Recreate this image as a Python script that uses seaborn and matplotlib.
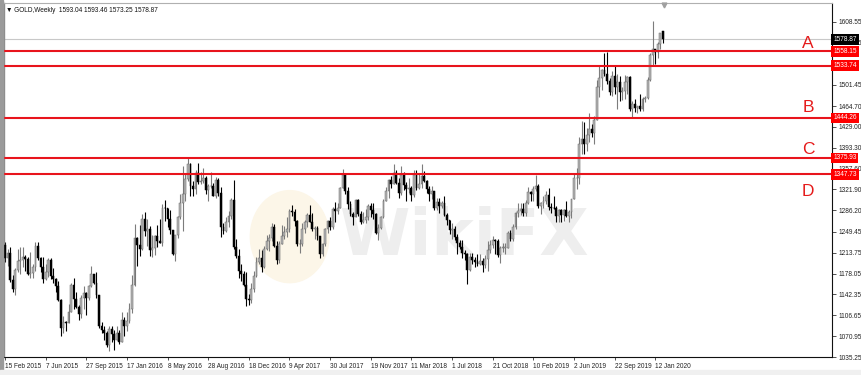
import numpy as np
import pandas as pd
import matplotlib
matplotlib.use("Agg")
import matplotlib.pyplot as plt
import matplotlib.transforms as mtransforms
from matplotlib.patches import Rectangle, Ellipse
import seaborn as sns

# ---------------- data (weekly GOLD candles) ----------------
start_date = "2015-02-15"

opens = [
    1227, 1204, 1213, 1167, 1152, 1184, 1199, 1201, 1207, 1203, 1178, 1179, 1189, 1225, 1205, 1190,
    1168, 1180, 1201, 1173, 1168, 1157, 1132, 1085, 1095, 1094, 1113, 1159, 1134, 1121, 1108, 1137,
    1145, 1137, 1156, 1177, 1162, 1142, 1088, 1081, 1076, 1056, 1084, 1075, 1065, 1076,
    1061, 1098, 1089, 1097, 1117, 1158, 1239, 1227, 1220, 1271, 1250, 1255, 1218, 1221, 1243, 1234,
    1231, 1291, 1290, 1272, 1252, 1212, 1244, 1275, 1298, 1315, 1340, 1366, 1327, 1322, 1350, 1335,
    1337, 1341, 1321, 1327, 1328, 1310, 1338, 1316, 1257, 1251, 1267, 1276, 1304, 1224, 1208, 1183,
    1177, 1159, 1134, 1133,
    1152, 1173, 1197, 1205, 1190, 1220, 1234, 1239, 1257, 1226, 1201, 1229, 1243, 1249, 1254, 1285,
    1284, 1268, 1228, 1228, 1254, 1267, 1279, 1266, 1254, 1256, 1242, 1212, 1228, 1254, 1268, 1258,
    1289, 1285, 1291, 1325, 1346, 1320, 1297, 1280, 1275, 1304, 1280, 1266, 1269, 1275, 1293, 1287,
    1280, 1248, 1256, 1275,
    1303, 1320, 1338, 1332, 1350, 1333, 1316, 1347, 1330, 1322, 1324, 1313, 1347, 1325, 1332, 1345,
    1336, 1323, 1314, 1320, 1291, 1301, 1294, 1298, 1279, 1269, 1252, 1255, 1241, 1231, 1223, 1214,
    1212, 1184, 1206, 1201, 1197, 1194, 1199, 1192, 1203, 1219, 1227, 1235, 1233, 1209, 1222, 1222,
    1222, 1248, 1238, 1257,
    1281, 1285, 1289, 1282, 1298, 1318, 1314, 1322, 1328, 1294, 1298, 1302, 1313, 1292, 1291, 1290,
    1276, 1286, 1279, 1286, 1277, 1284, 1305, 1341, 1341, 1400, 1409, 1400, 1415, 1426, 1419, 1440,
    1497, 1513, 1526, 1520, 1507, 1488, 1516, 1497, 1505, 1489, 1490, 1505, 1514, 1459, 1468, 1462,
    1464, 1460, 1476, 1478,
    1510, 1552, 1562, 1557, 1571, 1593.04,
]

highs = [
    1232, 1220, 1223, 1175, 1188, 1220, 1224, 1223, 1209, 1207, 1215, 1194, 1232, 1232, 1206, 1206,
    1194, 1205, 1205, 1188, 1170, 1166, 1134, 1105, 1097, 1126, 1162, 1170, 1146, 1125, 1141, 1157,
    1147, 1159, 1191, 1178, 1180, 1142, 1095, 1088, 1080, 1088, 1089, 1081, 1088, 1081,
    1112, 1103, 1112, 1127, 1175, 1263, 1240, 1261, 1280, 1283, 1272, 1260, 1244, 1244, 1261, 1271,
    1297, 1304, 1290, 1287, 1253, 1244, 1277, 1315, 1362, 1350, 1375, 1367, 1337, 1356, 1367, 1352,
    1359, 1345, 1331, 1352, 1333, 1344, 1342, 1326, 1265, 1274, 1285, 1308, 1338, 1237, 1220, 1194,
    1182, 1181, 1143, 1162,
    1183, 1207, 1220, 1219, 1226, 1244, 1245, 1264, 1263, 1233, 1233, 1261, 1259, 1274, 1289, 1296,
    1289, 1270, 1237, 1264, 1270, 1281, 1296, 1282, 1260, 1260, 1243, 1230, 1256, 1270, 1275, 1292,
    1301, 1299, 1326, 1357, 1348, 1326, 1302, 1283, 1306, 1306, 1285, 1284, 1288, 1297, 1298, 1299,
    1281, 1262, 1277, 1306,
    1326, 1340, 1345, 1366, 1355, 1341, 1362, 1352, 1334, 1341, 1328, 1355, 1356, 1348, 1365, 1354,
    1338, 1327, 1327, 1320, 1308, 1307, 1303, 1310, 1282, 1270, 1265, 1260, 1245, 1235, 1236, 1219,
    1214, 1214, 1214, 1207, 1212, 1211, 1205, 1210, 1233, 1236, 1243, 1238, 1237, 1225, 1230, 1230,
    1250, 1252, 1262, 1284,
    1298, 1298, 1298, 1304, 1326, 1319, 1327, 1346, 1331, 1300, 1311, 1320, 1324, 1298, 1311, 1294,
    1289, 1289, 1288, 1303, 1287, 1306, 1348, 1358, 1411, 1439, 1437, 1427, 1453, 1434, 1448, 1510,
    1535, 1528, 1555, 1557, 1512, 1524, 1535, 1519, 1516, 1498, 1518, 1516, 1516, 1474, 1476, 1465,
    1485, 1480, 1481, 1514,
    1555, 1611, 1563, 1575, 1589, 1593.46,
]

lows = [
    1197, 1191, 1163, 1147, 1142, 1180, 1178, 1190, 1183, 1175, 1170, 1170, 1182, 1201, 1180, 1162,
    1167, 1172, 1168, 1162, 1147, 1131, 1072, 1077, 1080, 1093, 1112, 1118, 1119, 1098, 1102, 1118,
    1107, 1132, 1155, 1161, 1136, 1085, 1077, 1065, 1052, 1046, 1061, 1047, 1065, 1057,
    1061, 1071, 1080, 1094, 1110, 1156, 1191, 1208, 1219, 1242, 1226, 1208, 1207, 1209, 1224, 1230,
    1226, 1268, 1258, 1245, 1209, 1200, 1239, 1272, 1250, 1303, 1336, 1310, 1310, 1314, 1332, 1332,
    1333, 1315, 1302, 1324, 1310, 1308, 1310, 1241, 1245, 1249, 1258, 1272, 1220, 1204, 1171, 1165,
    1156, 1123, 1124, 1127,
    1146, 1172, 1195, 1180, 1188, 1218, 1216, 1233, 1223, 1195, 1196, 1228, 1238, 1241, 1249, 1277,
    1260, 1226, 1214, 1226, 1247, 1258, 1266, 1251, 1237, 1236, 1205, 1208, 1226, 1248, 1253, 1254,
    1266, 1280, 1291, 1325, 1315, 1288, 1276, 1261, 1274, 1277, 1262, 1264, 1265, 1270, 1275, 1271,
    1245, 1236, 1254, 1273,
    1302, 1307, 1324, 1331, 1331, 1307, 1312, 1321, 1303, 1316, 1303, 1309, 1321, 1322, 1325, 1334,
    1316, 1302, 1305, 1286, 1286, 1281, 1290, 1277, 1261, 1245, 1237, 1235, 1211, 1220, 1204, 1202,
    1160, 1183, 1195, 1189, 1191, 1192, 1181, 1187, 1183, 1214, 1221, 1212, 1207, 1196, 1215, 1212,
    1221, 1233, 1234, 1254,
    1275, 1279, 1276, 1276, 1297, 1302, 1302, 1320, 1290, 1280, 1290, 1297, 1286, 1281, 1289, 1266,
    1266, 1266, 1268, 1274, 1266, 1273, 1305, 1323, 1331, 1383, 1382, 1387, 1403, 1412, 1400, 1440,
    1480, 1492, 1516, 1503, 1484, 1481, 1485, 1459, 1474, 1475, 1476, 1485, 1456, 1446, 1455, 1452,
    1457, 1456, 1471, 1477,
    1508, 1535, 1537, 1547, 1563, 1573.25,
]

closes = [
    1204, 1213, 1167, 1152, 1184, 1199, 1201, 1207, 1203, 1178, 1179, 1189, 1225, 1205, 1190, 1168,
    1180, 1201, 1173, 1168, 1157, 1132, 1085, 1095, 1094, 1113, 1159, 1134, 1121, 1108, 1137, 1145,
    1137, 1156, 1177, 1162, 1142, 1088, 1081, 1076, 1056, 1084, 1075, 1065, 1076, 1061,
    1098, 1089, 1097, 1117, 1158, 1239, 1227, 1220, 1271, 1250, 1255, 1218, 1221, 1243, 1234, 1231,
    1291, 1290, 1272, 1252, 1212, 1244, 1275, 1298, 1315, 1340, 1366, 1327, 1322, 1350, 1335, 1337,
    1341, 1321, 1327, 1328, 1310, 1338, 1316, 1257, 1251, 1267, 1276, 1304, 1224, 1208, 1183, 1177,
    1159, 1134, 1133, 1152,
    1173, 1197, 1205, 1190, 1220, 1234, 1239, 1257, 1226, 1201, 1229, 1243, 1249, 1254, 1285, 1284,
    1268, 1228, 1228, 1254, 1267, 1279, 1266, 1254, 1256, 1242, 1212, 1228, 1254, 1268, 1258, 1289,
    1285, 1291, 1325, 1346, 1320, 1297, 1280, 1275, 1304, 1280, 1266, 1269, 1275, 1293, 1287, 1280,
    1248, 1256, 1275, 1303,
    1320, 1338, 1332, 1350, 1333, 1316, 1347, 1330, 1322, 1324, 1313, 1347, 1325, 1332, 1345, 1336,
    1323, 1314, 1320, 1291, 1301, 1294, 1298, 1279, 1269, 1252, 1255, 1241, 1231, 1223, 1214, 1212,
    1184, 1206, 1201, 1197, 1194, 1199, 1192, 1203, 1219, 1227, 1235, 1233, 1209, 1222, 1222, 1222,
    1248, 1238, 1257, 1281,
    1285, 1289, 1282, 1298, 1318, 1314, 1322, 1328, 1294, 1298, 1302, 1313, 1292, 1291, 1290, 1276,
    1286, 1279, 1286, 1277, 1284, 1305, 1341, 1341, 1400, 1409, 1400, 1415, 1426, 1419, 1440, 1497,
    1513, 1526, 1520, 1507, 1488, 1516, 1497, 1505, 1489, 1490, 1505, 1514, 1459, 1468, 1462, 1464,
    1460, 1476, 1478, 1510,
    1552, 1562, 1557, 1571, 1589, 1578.87,
]

levels = [1558.15, 1533.74, 1444.26, 1375.93, 1347.73]
zone_letters = ["A", "B", "C", "D"]
zone_letter_prices = [1572, 1463, 1390, 1318]
current_price = 1578.87
ytick_values = [1608.55, 1572.85, 1501.45, 1464.70, 1429.00, 1393.30, 1357.60,
                1321.90, 1286.20, 1249.45, 1213.75, 1178.05, 1142.35, 1106.65, 1070.95, 1035.25]
xtick_labels = ["15 Feb 2015", "7 Jun 2015", "27 Sep 2015", "17 Jan 2016", "8 May 2016",
                "28 Aug 2016", "18 Dec 2016", "9 Apr 2017", "30 Jul 2017", "19 Nov 2017",
                "11 Mar 2018", "1 Jul 2018", "21 Oct 2018", "10 Feb 2019", "2 Jun 2019",
                "22 Sep 2019", "12 Jan 2020"]
header_text = "GOLD,Weekly  1593.04 1593.46 1573.25 1578.87"
watermark = "WikiFX"

# ---------------- build table ----------------
assert len(opens) == len(highs) == len(lows) == len(closes)
df = pd.DataFrame({"open": opens, "high": highs, "low": lows, "close": closes})
df["date"] = pd.date_range(start_date, periods=len(df), freq="7D")
df["idx"] = np.arange(len(df))
df["up"] = df["close"] >= df["open"]
tick_idx = [df.index[df["date"] == pd.Timestamp(lbl)][0] for lbl in xtick_labels]

# ---------------- style ----------------
sns.set_theme(style="white")
plt.rcParams["font.family"] = ["Liberation Sans", "DejaVu Sans"]

W, H = 862, 375
fig = plt.figure(figsize=(W / 100, H / 100), dpi=100)
fig.patch.set_facecolor("white")
ax_left, ax_right, ax_top, ax_bottom = 4, 832, 3, 357
ax = fig.add_axes([ax_left / W, (H - ax_bottom) / H, (ax_right - ax_left) / W, (ax_bottom - ax_top) / H])
ax.set_facecolor("white")

px_per_bar = 2.54
x0 = -1 / px_per_bar
ax.set_xlim(x0, x0 + (ax_right - ax_left) / px_per_bar)
ax.set_ylim(1036.95, 1640.97)

# window decoration
fig.patches.append(Rectangle((0, 0), 3 / W, 1, transform=fig.transFigure, color="#9a9a9a", zorder=0))
fig.patches.append(Rectangle((0, 0), 1, 5 / H, transform=fig.transFigure, color="#f0f0f0", zorder=0))

# watermark
ax.add_patch(Ellipse((0.345, 0.34), 0.095, 0.26, transform=ax.transAxes,
                     color="#fcf6e8", zorder=0.5))
ax.text(0.555, 0.34, watermark, transform=ax.transAxes, fontsize=46, fontweight="bold",
        color="#eeeeee", ha="center", va="center", zorder=0.6, family="DejaVu Sans")

# current price line
ax.axhline(current_price, color="#c8c8c8", lw=0.8, zorder=1)

# candles
up = df[df["up"]]
dn = df[~df["up"]]
ax.vlines(up["idx"], up["low"], up["high"], colors="#7c7c7c", lw=0.8, zorder=2)
ax.vlines(dn["idx"], dn["low"], dn["high"], colors="#000000", lw=0.8, zorder=2)
body_w = 0.72
ax.bar(up["idx"], np.maximum((up["close"] - up["open"]).abs(), 0.8),
       bottom=np.minimum(up["open"], up["close"]), width=body_w,
       color="#b4b4b4", edgecolor="#6a6a6a", linewidth=0.35, zorder=3)
ax.bar(dn["idx"], np.maximum((dn["close"] - dn["open"]).abs(), 0.8),
       bottom=np.minimum(dn["open"], dn["close"]), width=body_w,
       color="#000000", edgecolor="#000000", linewidth=0.35, zorder=3)

# red levels
for lv in levels:
    ax.axhline(lv, color="#e8141c", lw=1.5, zorder=4)

# zone letters
for letter, p in zip(zone_letters, zone_letter_prices):
    ax.text((808 - ax_left) / (ax_right - ax_left), p, letter,
            transform=mtransforms.blended_transform_factory(ax.transAxes, ax.transData),
            color="#e51b1b", fontsize=12.5, ha="center", va="center", zorder=5)

# axes / ticks
ax.yaxis.tick_right()
ax.set_yticks(ytick_values)
ax.set_yticklabels([f"{v:.2f}" for v in ytick_values])
ax.set_xticks(tick_idx)
ax.set_xticklabels(xtick_labels, ha="left")
ax.tick_params(axis="y", which="major", right=True, left=False, length=3, width=0.6,
               color="#333333", labelsize=4.7, pad=2, labelcolor="#222222")
ax.tick_params(axis="x", which="major", bottom=True, length=2, width=0.6,
               color="#333333", labelsize=4.7, pad=2, labelcolor="#222222")
ax.grid(False)
for side, col, lw in [("right", "#111111", 0.8), ("bottom", "#111111", 0.8),
                      ("top", "#b0b0b0", 0.8), ("left", "#8a8a8a", 1.0)]:
    ax.spines[side].set_color(col)
    ax.spines[side].set_linewidth(lw)
    ax.spines[side].set_visible(True)

# price boxes on the right axis
bt = mtransforms.blended_transform_factory(ax.transAxes, ax.transData)
for lv in levels:
    ax.text(1.0015, lv, f"{lv:.2f}", transform=bt, fontsize=4.7, color="white",
            ha="left", va="center", clip_on=False, zorder=10,
            bbox=dict(boxstyle="square,pad=0.28", fc="#ff0000", ec="none"))
ax.text(1.0015, current_price, f"{current_price:.2f}", transform=bt, fontsize=4.7, color="white",
        ha="left", va="center", clip_on=False, zorder=10,
        bbox=dict(boxstyle="square,pad=0.28", fc="#000000", ec="none"))

# header
ax.text(0.002, 0.99, "\u25bc " + header_text, transform=ax.transAxes, fontsize=4.7,
        color="#111111", ha="left", va="top", zorder=10)

# chart-shift marker at the top
ax.plot([df["idx"].iloc[-1] + 0.5], [1637], marker="v", color="#a0a0a0", markersize=3.5,
        clip_on=False, zorder=10)

fig.savefig("out.png", dpi=100)
